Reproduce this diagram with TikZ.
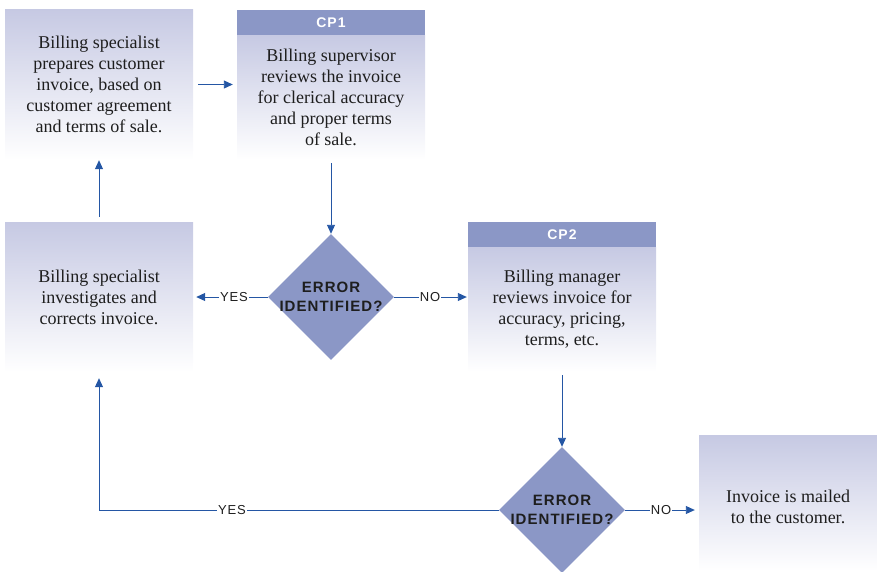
\documentclass[tikz,border=0pt]{standalone}
\usepackage{fontspec}
\setmainfont{Liberation Serif}
\newfontfamily\labelfont[LetterSpace=7]{Liberation Sans}
\usetikzlibrary{shapes.geometric,arrows.meta}
\definecolor{boxtop}{HTML}{C6C9E3}
\definecolor{headblue}{HTML}{8B97C6}
\definecolor{flowblue}{HTML}{2456A4}
\definecolor{darktext}{HTML}{1E1E1E}
\newcommand{\askline}[1]{\makebox[60pt]{#1}}

\begin{document}
\begin{tikzpicture}[x=1pt,y=-1pt,
  box/.style={minimum width=188pt,inner sep=0pt,align=center,
    top color=boxtop,bottom color=white,
    font=\fontsize{18}{21}\selectfont,text=darktext},
  head/.style={minimum width=188pt,minimum height=25pt,inner sep=0pt,fill=headblue,
    text=white,font=\labelfont\bfseries\fontsize{14}{15}\selectfont},
  decision/.style={diamond,fill=headblue,minimum width=126pt,minimum height=126pt,
    inner sep=0pt,text width=60pt,align=center,text=darktext,
    font=\labelfont\bfseries\fontsize{15}{19}\selectfont},
  answer/.style={inner sep=1pt,text=darktext,font=\labelfont\fontsize{13}{14}\selectfont},
  flow/.style={draw=flowblue,line width=0.9pt,-{Triangle[length=9pt,width=8pt]}},
  link/.style={draw=flowblue,line width=0.9pt}]
\useasboundingbox (0,0) rectangle (877,571);

% process boxes
\node[box,minimum height=151pt] (prep) at (99,84.5)
  {Billing specialist\\prepares customer\\invoice, based on\\customer agreement\\and terms of sale.};
\node[box,minimum height=125pt] (sup) at (331,97.5)
  {Billing supervisor\\reviews the invoice\\for clerical accuracy\\and proper terms\\of sale.};
\node[head] (cp1) at (331,22.5) {CP1};
\node[box,minimum height=150pt] (fix) at (99,297)
  {Billing specialist\\investigates and\\corrects invoice.};
\node[box,minimum height=125pt] (mgr) at (562,309.5)
  {Billing manager\\reviews invoice for\\accuracy, pricing,\\terms, etc.};
\node[head] (cp2) at (562,234.5) {CP2};
\node[box,minimum width=178pt,minimum height=136pt] (mail) at (788,503)
  {\rule{0pt}{20pt}Invoice is mailed\\to the customer.};

% decisions
\node[decision] (err1) at (331,297) {\askline{ERROR}\\\askline{IDENTIFIED?}};
\node[decision] (err2) at (562,510) {\askline{ERROR}\\\askline{IDENTIFIED?}};

% answers
\node[answer] (yes1) at (234,297) {YES};
\node[answer] (no1) at (430,297) {NO};
\node[answer] (yes2) at (232,510) {YES};
\node[answer] (no2) at (661,510) {NO};

% connectors
\draw[flow] ([xshift=5pt]prep.east) -- ([xshift=-4pt]sup.west |- prep.east);
\draw[flow] ([yshift=-3pt]sup.south) -- (err1.north);
\draw[link] (err1.west) -- (yes1.east);
\draw[flow] (yes1.west) -- ([xshift=3pt]fix.east);
\draw[link] (err1.east) -- (no1.west);
\draw[flow] (no1.east) -- ([xshift=-1pt]mgr.west |- no1.east);
\draw[flow] ([yshift=5pt]fix.north) -- (prep.south);
\draw[flow] ([yshift=-3pt]mgr.south) -- (err2.north);
\draw[link] (err2.west) -- (yes2.east);
\draw[flow] (yes2.west) -| ([yshift=-6pt]fix.south);
\draw[link] (err2.east) -- (no2.west);
\draw[flow] (no2.east) -- ([xshift=-4pt]mail.west |- no2.east);
\end{tikzpicture}
\end{document}
